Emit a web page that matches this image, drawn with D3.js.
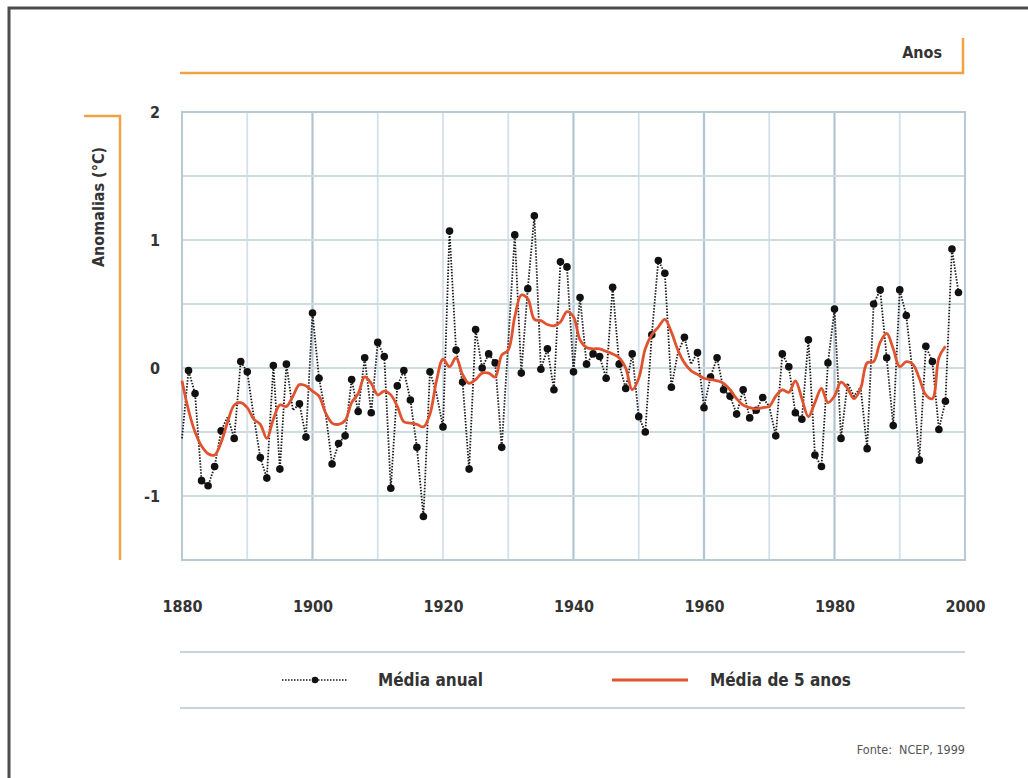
<!DOCTYPE html>
<html>
<head>
<meta charset="utf-8">
<script src="https://cdn.jsdelivr.net/npm/d3@7"></script>
<style>
  body { margin: 0; background: #fff; }
  text { font-family: "DejaVu Sans Condensed", "Liberation Sans Narrow", "DejaVu Sans", sans-serif; font-stretch: condensed; }
</style>
</head>
<body>
<div id="chart"></div>
<script>
// annual anomaly, one value per year starting in 1880
const firstYear = 1880
const annualValues = [
  -0.55, -0.02, -0.20, -0.88, -0.92, -0.77, -0.49, -0.38, -0.55, 0.05,
  -0.03, -0.38, -0.70, -0.86, 0.02, -0.79, 0.03, -0.33, -0.28, -0.54,
  0.43, -0.08, -0.35, -0.75, -0.59, -0.53, -0.09, -0.34, 0.08, -0.35,
  0.20, 0.09, -0.94, -0.14, -0.02, -0.25, -0.62, -1.16, -0.03, -0.20,
  -0.46, 1.07, 0.14, -0.11, -0.79, 0.30, 0.00, 0.11, 0.04, -0.62,
  0.20, 1.04, -0.04, 0.62, 1.19, -0.01, 0.15, -0.17, 0.83, 0.79,
  -0.03, 0.55, 0.03, 0.11, 0.09, -0.08, 0.63, 0.03, -0.16, 0.11,
  -0.38, -0.50, 0.26, 0.84, 0.74, -0.15, 0.12, 0.24, 0.03, 0.12,
  -0.31, -0.07, 0.08, -0.17, -0.22, -0.36, -0.17, -0.39, -0.33, -0.23,
  -0.30, -0.53, 0.11, 0.01, -0.35, -0.40, 0.22, -0.68, -0.77, 0.04,
  0.46, -0.55, -0.12, -0.22, -0.15, -0.63, 0.50, 0.61, 0.08, -0.45,
  0.61, 0.41, -0.05, -0.72, 0.17, 0.05, -0.48, -0.26, 0.93, 0.59
]
// years whose marker is not visible in the source (covered by the mean line)
const hiddenMarkers = [1880, 1887, 1891, 1897, 1902, 1919, 1930, 1956, 1958, 1970, 1982, 1983, 1984, 1992]

// 5-year mean, 1880 - 1997
const smoothValues = [
  -0.10, -0.33, -0.50, -0.61, -0.67, -0.68, -0.58, -0.42, -0.29, -0.27,
  -0.31, -0.40, -0.44, -0.55, -0.40, -0.29, -0.30, -0.22, -0.13, -0.14,
  -0.18, -0.22, -0.35, -0.43, -0.44, -0.41, -0.27, -0.20, -0.07, -0.12,
  -0.21, -0.18, -0.21, -0.30, -0.42, -0.43, -0.44, -0.46, -0.36, -0.10,
  0.07, 0.01, 0.08, -0.05, -0.12, -0.09, -0.04, -0.04, -0.07, 0.10,
  0.14, 0.40, 0.57, 0.54, 0.38, 0.37, 0.34, 0.33, 0.36, 0.44,
  0.40, 0.22, 0.16, 0.15, 0.15, 0.13, 0.11, 0.08, 0.00, -0.17,
  -0.08, 0.15, 0.26, 0.32, 0.38, 0.28, 0.14, 0.04, -0.02, -0.05,
  -0.08, -0.09, -0.10, -0.12, -0.17, -0.24, -0.29, -0.31, -0.32, -0.31,
  -0.30, -0.22, -0.17, -0.19, -0.10, -0.24, -0.38, -0.27, -0.16, -0.27,
  -0.22, -0.11, -0.16, -0.24, -0.16, 0.04, 0.05, 0.20, 0.27, 0.15,
  0.01, 0.05, 0.03, -0.08, -0.21, -0.24, 0.08, 0.17
]

const xTicks = [1880, 1900, 1920, 1940, 1960, 1980, 2000]
const yTicks = [2, 1, 0, -1]
const xGrid = [1890, 1900, 1910, 1920, 1930, 1940, 1950, 1960, 1970, 1980, 1990]
const yGrid = [1.5, 1, 0.5, 0, -0.5, -1]
const darkGrid = [1900, 1940, 1960, 1980]

const width = 1028
const height = 778
const orange = "#f2a144"
const red = "#e0532f"

const svg = d3.select("#chart")
  .append("svg")
  .attr("width", width)
  .attr("height", height)

// outer frame
svg.append("path")
  .attr("d", "M9,778 V8 H1028")
  .attr("fill", "none")
  .attr("stroke", "#4d4d4d")
  .attr("stroke-width", 3)

const x = d3.scaleLinear().domain([1880, 2000]).range([182, 965])
const y = d3.scaleLinear().domain([-1.5, 2]).range([560, 112])

const annual = annualValues.map((v, i) => ({ year: firstYear + i, value: v }))
const smooth = smoothValues.map((v, i) => ({ year: firstYear + i, value: v }))

// grid
const grid = svg.append("g")
grid.selectAll(".vgrid")
  .data(xGrid)
  .join("line")
  .attr("x1", d => x(d)).attr("x2", d => x(d))
  .attr("y1", y(2)).attr("y2", y(-1.5))
  .attr("stroke", d => darkGrid.includes(d) ? "#b3c4d0" : "#d3e1ea")
  .attr("stroke-width", d => darkGrid.includes(d) ? 2.2 : 1.8)

grid.selectAll(".hgrid")
  .data(yGrid)
  .join("line")
  .attr("x1", x(1880)).attr("x2", x(2000))
  .attr("y1", d => y(d)).attr("y2", d => y(d))
  .attr("stroke", "#cddbe5")
  .attr("stroke-width", 2)

grid.append("rect")
  .attr("x", x(1880)).attr("y", y(2))
  .attr("width", x(2000) - x(1880)).attr("height", y(-1.5) - y(2))
  .attr("fill", "none")
  .attr("stroke", "#b8c9d4")
  .attr("stroke-width", 2)

// axes labels
const xAxis = svg.append("g")
  .attr("transform", `translate(0, ${y(-1.5) + 38})`)
  .call(d3.axisBottom(x).tickValues(xTicks).tickFormat(d3.format("d")).tickSize(0))
xAxis.select(".domain").remove()
xAxis.selectAll("text")
  .attr("font-size", 16)
  .attr("font-weight", "bold")
  .attr("fill", "#333")
  .style("font-family", "'DejaVu Sans Condensed', sans-serif")

const yAxis = svg.append("g")
  .attr("transform", `translate(${x(1880) - 19}, 0)`)
  .call(d3.axisLeft(y).tickValues(yTicks).tickFormat(d => d < 0 ? "-" + Math.abs(d) : d).tickSize(0))
yAxis.select(".domain").remove()
yAxis.selectAll("text")
  .attr("font-size", 16)
  .attr("font-weight", "bold")
  .attr("fill", "#333")
  .style("font-family", "'DejaVu Sans Condensed', sans-serif")

// y title with orange bracket
svg.append("path")
  .attr("d", "M84,116 H120 V560")
  .attr("fill", "none")
  .attr("stroke", orange)
  .attr("stroke-width", 2.5)
svg.append("text")
  .attr("transform", "translate(104, 207) rotate(-90)")
  .attr("text-anchor", "middle")
  .attr("font-size", 16)
  .attr("font-weight", "bold")
  .attr("fill", "#333")
  .text("Anomalias (°C)")

// x title with orange bracket
svg.append("path")
  .attr("d", "M180,73 H963 V38")
  .attr("fill", "none")
  .attr("stroke", orange)
  .attr("stroke-width", 2.5)
svg.append("text")
  .attr("x", 942).attr("y", 58)
  .attr("text-anchor", "end")
  .attr("font-size", 16)
  .attr("font-weight", "bold")
  .attr("fill", "#333")
  .text("Anos")

// annual series: dotted line + dots
const line = d3.line().x(d => x(d.year)).y(d => y(d.value))
svg.append("path")
  .datum(annual)
  .attr("d", line)
  .attr("fill", "none")
  .attr("stroke", "#1a1a1a")
  .attr("stroke-width", 1.8)
  .attr("stroke-dasharray", "1.5,1.5")

svg.selectAll(".dot")
  .data(annual.filter(d => !hiddenMarkers.includes(d.year)))
  .join("circle")
  .attr("cx", d => x(d.year))
  .attr("cy", d => y(d.value))
  .attr("r", 3.8)
  .attr("fill", "#111")

// 5-year mean
svg.append("path")
  .datum(smooth)
  .attr("d", d3.line().curve(d3.curveCatmullRom.alpha(0.5)).x(d => x(d.year)).y(d => y(d.value)))
  .attr("fill", "none")
  .attr("stroke", red)
  .attr("stroke-width", 2.8)

// legend
const legend = svg.append("g")
legend.selectAll(".sep")
  .data([652, 708])
  .join("line")
  .attr("x1", 180).attr("x2", 965)
  .attr("y1", d => d).attr("y2", d => d)
  .attr("stroke", "#c6d6e0")
  .attr("stroke-width", 2)

legend.append("line")
  .attr("x1", 282).attr("x2", 348)
  .attr("y1", 680).attr("y2", 680)
  .attr("stroke", "#1a1a1a")
  .attr("stroke-width", 1.6)
  .attr("stroke-dasharray", "1.5,1.5")
legend.append("circle")
  .attr("cx", 315).attr("cy", 680).attr("r", 3.3).attr("fill", "#111")
legend.append("text")
  .attr("x", 378).attr("y", 686)
  .attr("font-size", 17)
  .attr("font-weight", "bold")
  .attr("fill", "#333")
  .text("Média anual")

legend.append("line")
  .attr("x1", 612).attr("x2", 688)
  .attr("y1", 680).attr("y2", 680)
  .attr("stroke", red)
  .attr("stroke-width", 2.8)
legend.append("text")
  .attr("x", 710).attr("y", 686)
  .attr("font-size", 17)
  .attr("font-weight", "bold")
  .attr("fill", "#333")
  .text("Média de 5 anos")

svg.append("text")
  .attr("x", 965).attr("y", 754)
  .attr("text-anchor", "end")
  .attr("font-size", 12.5)
  .attr("fill", "#555")
  .style("white-space", "pre")
  .text("Fonte:  NCEP, 1999")
</script>
</body>
</html>
